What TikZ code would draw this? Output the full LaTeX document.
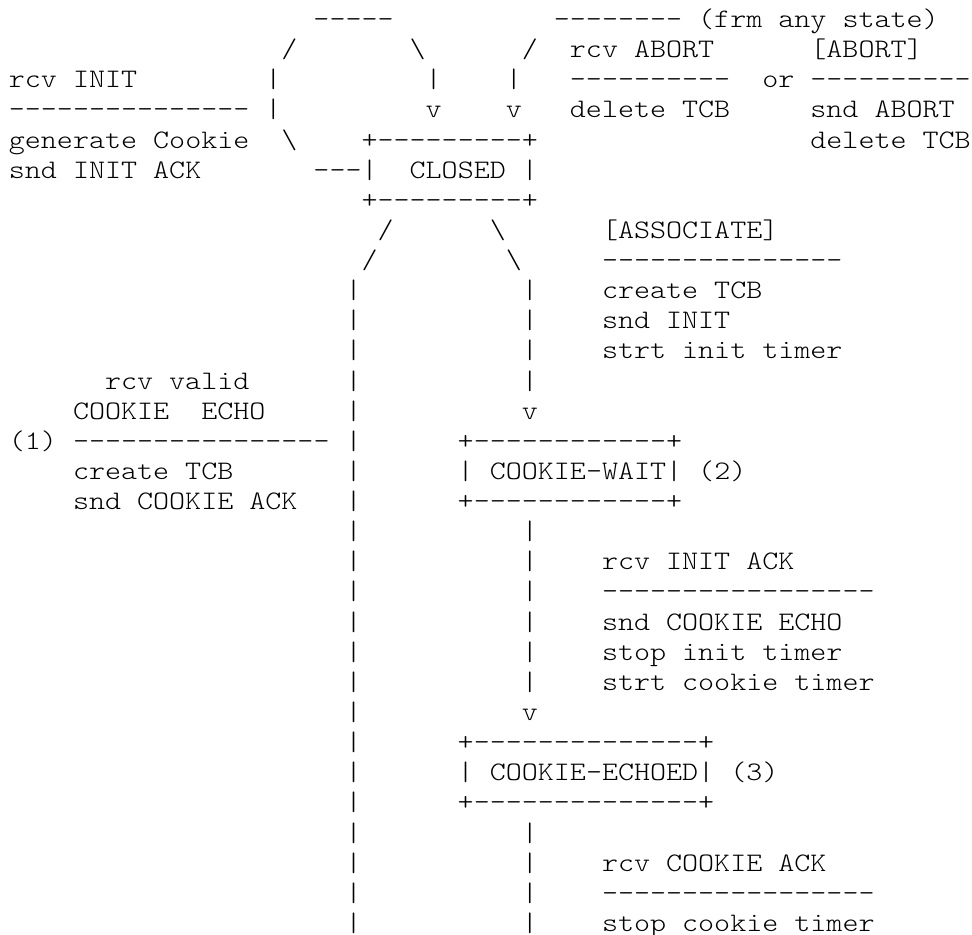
\documentclass[tikz,border=0pt]{standalone}
\usepackage{fontspec}
\newfontfamily\asciimono{lmmonolt10-regular}[Extension=.otf,FakeStretch=1.1429]
\begin{document}
\begin{tikzpicture}[x=0.75pt,y=-0.75pt,
  txt/.style={anchor=base west,inner sep=0pt,outer sep=0pt,
    font=\asciimono\fontsize{20.04pt}{22.6pt}\selectfont}]
\newcommand\asciiat[3]{\node[txt] (n#1-#2) at ({8.9+16.03*#2},{27.5+30.13*(#1-1)}) {#3};}
\fill[white] (0,0) rectangle (972,935);
\useasboundingbox (0,0) rectangle (972,935);
% line 1
\asciiat{1}{19}{-----}
\asciiat{1}{34}{-------- (frm any state)}
% line 2
\asciiat{2}{17}{/}
\asciiat{2}{25}{\textbackslash}
\asciiat{2}{32}{/}
\asciiat{2}{35}{rcv ABORT}
\asciiat{2}{50}{[ABORT]}
% line 3
\asciiat{3}{0}{rcv INIT}
\asciiat{3}{16}{|}
\asciiat{3}{26}{|}
\asciiat{3}{31}{|}
\asciiat{3}{35}{----------}
\asciiat{3}{47}{or ----------}
% line 4
\asciiat{4}{0}{--------------- |}
\asciiat{4}{26}{v}
\asciiat{4}{31}{v}
\asciiat{4}{35}{delete TCB}
\asciiat{4}{50}{snd ABORT}
% line 5
\asciiat{5}{0}{generate Cookie}
\asciiat{5}{17}{\textbackslash}
\asciiat{5}{22}{+---------+}
\asciiat{5}{50}{delete TCB}
% line 6
\asciiat{6}{0}{snd INIT ACK}
\asciiat{6}{19}{---|}
\asciiat{6}{25}{CLOSED |}
% line 7
\asciiat{7}{22}{+---------+}
% line 8
\asciiat{8}{23}{/}
\asciiat{8}{30}{\textbackslash}
\asciiat{8}{37}{[ASSOCIATE]}
% line 9
\asciiat{9}{22}{/}
\asciiat{9}{31}{\textbackslash}
\asciiat{9}{37}{---------------}
% left vertical line of pipes
\foreach \k in {10,...,31} {\asciiat{\k}{21}{|}}
% middle column of pipes
\foreach \k in {10,11,12,13,18,19,20,21,22,23,28,29,30,31} {\asciiat{\k}{32}{|}}
\asciiat{14}{32}{v}
\asciiat{24}{32}{v}
% labels on the right
\asciiat{10}{37}{create TCB}
\asciiat{11}{37}{snd INIT}
\asciiat{12}{37}{strt init timer}
% left label
\asciiat{13}{6}{rcv valid}
\asciiat{14}{4}{COOKIE}
\asciiat{14}{12}{ECHO}
\asciiat{15}{0}{(1) ----------------}
\asciiat{16}{4}{create TCB}
\asciiat{17}{4}{snd COOKIE ACK}
% COOKIE-WAIT box
\asciiat{15}{28}{+------------+}
\asciiat{16}{28}{| COOKIE-WAIT| (2)}
\asciiat{17}{28}{+------------+}
% transition label
\asciiat{19}{37}{rcv INIT ACK}
\asciiat{20}{37}{-----------------}
\asciiat{21}{37}{snd COOKIE ECHO}
\asciiat{22}{37}{stop init timer}
\asciiat{23}{37}{strt cookie timer}
% COOKIE-ECHOED box
\asciiat{25}{28}{+--------------+}
\asciiat{26}{28}{| COOKIE-ECHOED| (3)}
\asciiat{27}{28}{+--------------+}
% transition label
\asciiat{29}{37}{rcv COOKIE ACK}
\asciiat{30}{37}{-----------------}
\asciiat{31}{37}{stop cookie timer}
\end{tikzpicture}
\end{document}
